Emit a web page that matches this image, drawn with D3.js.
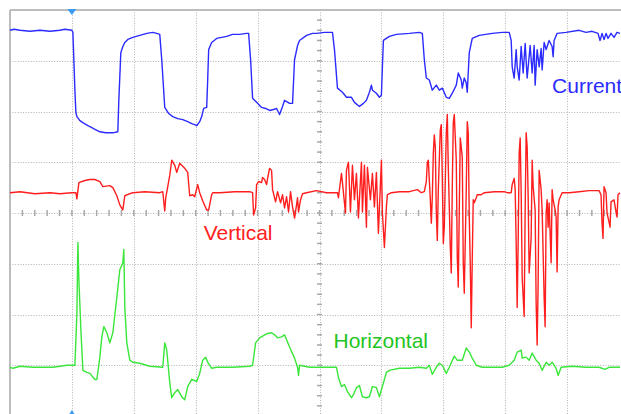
<!DOCTYPE html>
<html>
<head>
<meta charset="utf-8">
<script src="https://cdn.jsdelivr.net/npm/d3@7"></script>
<style>
    body { margin: 0; background: #fff; }
    svg { display: block; font-family: "Liberation Sans", Arial, sans-serif; }
</style>
</head>
<body>
<svg id="scope" width="621" height="414"></svg>
<script>
// time in samples (62 samples / division), voltage in mV (50 mV / division)
const channelNames = ["Current", "Vertical", "Horizontal"];

const currentTrace = [
    [0,180],[4,181],[10,180],[20,179],[30,180],[40,179],[50,180],[55,181],[62,180],[63,178],
    [65,121],[66,99],[67,95],[70,91],[73,89],[78,86],[82,84],[86,82],[90,80],[96,79],[103,79],[108,80],
    [109,111],[111,158],[113,164],[115,168],[118,171],[123,173],[130,175],[137,177],[143,178],[147,177],[150,176],
    [152,151],[155,104],[159,98],[163,95],[168,93],[173,92],[178,90],[182,88],[185,87],[187,86],
    [190,90],[192,95],[194,103],[197,104],[198,131],[199,161],[202,168],[207,172],[212,173],[217,174],
    [223,176],[230,176],[237,177],[239,177],[241,151],[243,113],[247,109],[252,104],[256,103],[260,101],
    [264,102],[267,103],[270,97],[273,105],[275,111],[280,108],[283,108],[285,151],[288,165],[290,170],
    [297,175],[303,177],[307,177],[315,178],[323,178],[325,161],[328,123],[333,119],[337,114],[342,114],
    [345,109],[350,105],[354,108],[357,111],[360,119],[362,126],[363,121],[367,118],[370,114],[372,116],
    [373,144],[374,170],[380,174],[387,176],[400,177],[410,178],[413,177],[415,151],[417,133],[420,131],
    [423,121],[427,126],[430,121],[433,123],[437,114],[440,113],[443,118],[447,126],[449,138],[452,131],
    [453,123],[455,133],[457,128],[458,119],[460,158],[463,172],[470,175],[483,177],[493,178],[500,178],
    [502,170],[503,144],[505,133],[507,161],[508,144],[510,131],[512,164],[514,138],[516,167],[518,133],
    [521,165],[523,138],[525,165],[526,126],[528,161],[530,144],[532,162],[533,141],[535,168],[537,161],
    [540,170],[543,164],[544,154],[545,170],[548,177],[557,178],[570,180],[577,178],[583,179],[589,177],
    [591,170],[593,177],[595,171],[597,177],[599,172],[602,177],[605,173],[608,178],[611,177]
];

const verticalTrace = [
    [0,20],[10,21],[25,19],[40,20],[50,19],[62,20],[66,20],[67,14],[69,30],[75,32],[80,33],[85,33],
    [90,31],[93,26],[100,27],[103,25],[107,17],[110,8],[113,3],[115,17],[120,19],[123,20],[135,21],
    [150,20],[153,21],[155,2],[156,15],[160,37],[162,52],[165,47],[167,40],[170,49],[175,44],[178,40],
    [180,17],[183,18],[185,16],[188,28],[190,20],[193,12],[197,3],[199,3],[202,18],[203,20],[210,20],
    [225,21],[240,21],[243,20],[244,-2],[246,5],[247,28],[249,31],[252,30],[253,35],[255,33],[257,28],
    [258,34],[260,44],[262,42],[263,23],[266,11],[268,21],[271,10],[273,18],[275,5],[277,16],[279,1],
    [281,21],[283,6],[285,-5],[287,8],[288,15],[289,1],[291,13],[293,19],[297,20],[307,22],[317,20],
    [328,20],[329,15],[332,39],[333,30],[336,0],[337,42],[339,50],[341,1],[343,47],[345,13],[347,39],
    [349,-5],[352,50],[353,1],[355,47],[357,-14],[358,45],[361,13],[363,39],[365,6],[367,40],[369,-20],
    [372,52],[373,0],[375,-34],[377,6],[378,18],[382,20],[390,21],[400,21],[408,23],[412,20],[415,21],
    [417,31],[418,50],[419,52],[421,13],[422,-10],[423,16],[424,59],[425,77],[426,65],[427,0],[428,-27],
    [429,23],[431,82],[432,87],[433,35],[434,-30],[435,-14],[437,79],[438,97],[439,45],[441,-33],
    [442,-59],[443,26],[444,89],[445,97],[447,52],[448,-43],[449,-73],[450,3],[451,74],[453,55],
    [454,-49],[455,-79],[457,23],[458,90],[459,79],[460,-4],[461,-49],[462,-113],[463,-46],[464,13],
    [465,10],[467,15],[468,18],[472,18],[475,20],[485,21],[495,21],[498,20],[502,20],[503,28],[505,34],
    [506,23],[507,-30],[508,-93],[509,-27],[510,59],[511,74],[512,20],[513,-63],[515,-102],[516,3],
    [517,79],[518,65],[519,16],[520,-59],[522,-24],[523,52],[524,26],[526,3],[527,-89],[528,-130],
    [529,-69],[530,42],[532,23],[533,3],[535,-83],[536,-112],[537,0],[538,13],[539,-14],[540,10],
    [542,-49],[543,23],[544,13],[546,3],[547,-4],[548,-58],[549,6],[550,13],[553,20],[560,20],[570,21],
    [580,22],[590,22],[592,18],[593,-10],[594,-25],[595,26],[597,20],[598,0],[600,-9],[601,-14],
    [602,11],[605,13],[607,1],[608,-4],[609,18],[611,20]
];

const horizontalTrace = [
    [0,-152],[3,-153],[10,-151],[23,-152],[33,-152],[43,-152],[57,-150],[65,-150],[67,-99],[68,-29],
    [69,-66],[71,-115],[73,-155],[77,-157],[80,-158],[85,-164],[87,-164],[90,-142],[92,-122],[94,-112],
    [97,-118],[100,-128],[103,-118],[107,-83],[110,-56],[113,-49],[114,-36],[115,-93],[117,-128],
    [120,-145],[123,-147],[130,-148],[140,-151],[153,-152],[155,-128],[157,-135],[160,-167],[162,-182],
    [165,-177],[168,-174],[172,-181],[175,-184],[178,-171],[182,-164],[187,-166],[190,-158],[193,-145],
    [196,-142],[198,-147],[202,-153],[207,-152],[223,-152],[240,-151],[243,-150],[246,-128],[250,-123],
    [257,-119],[262,-118],[265,-120],[268,-123],[272,-122],[275,-120],[280,-132],[285,-143],[288,-152],
    [289,-160],[290,-150],[300,-152],[310,-152],[322,-152],[327,-152],[329,-162],[332,-171],[335,-169],
    [338,-176],[342,-182],[344,-179],[347,-172],[350,-170],[353,-181],[357,-182],[360,-181],[363,-171],
    [367,-172],[370,-181],[373,-171],[377,-157],[380,-155],[390,-153],[400,-153],[410,-152],[417,-153],
    [420,-150],[423,-159],[427,-152],[430,-148],[433,-150],[437,-158],[440,-152],[445,-141],[448,-145],
    [453,-145],[457,-133],[460,-137],[463,-143],[467,-150],[473,-152],[483,-152],[493,-152],[500,-150],
    [505,-145],[508,-137],[512,-135],[513,-143],[517,-142],[520,-145],[523,-138],[527,-145],[530,-148],
    [533,-155],[537,-147],[540,-150],[543,-147],[547,-153],[549,-160],[552,-152],[563,-151],[577,-152],
    [590,-152],[596,-154],[600,-152],[611,-152]
];

const channelTraces = [currentTrace, verticalTrace, horizontalTrace];
const traceColors = ["#2b2bff", "#ff1e1e", "#3ae63a"];
const labelColors = ["#2b2bff", "#ff2020", "#22c422"];
// label anchor: [sample, mV]
const labelAnchors = [[543, 118], [194, -27], [324, -133]];
const triggerSample = 62;

document.addEventListener("DOMContentLoaded", function () {
    const svg = d3.select("#scope");

    const x = d3.scaleLinear().domain([0, 620]).range([10, 629]);
    const y = d3.scaleLinear().domain([-200, 200]).range([416, 10]);

    const samplesPerDiv = 62;
    const mvPerDiv = 50;

    // Dotted graticule
    const grid = svg.append("g")
        .attr("stroke", "#b4b4b4")
        .attr("stroke-width", 1)
        .attr("stroke-dasharray", "1,1.6");

    grid.selectAll(".vgrid")
        .data(d3.range(samplesPerDiv, 620, samplesPerDiv))
        .enter()
        .append("line")
        .attr("x1", d => Math.round(x(d)) + 0.5)
        .attr("x2", d => Math.round(x(d)) + 0.5)
        .attr("y1", y(200))
        .attr("y2", y(-200));

    grid.selectAll(".hgrid")
        .data(d3.range(-200 + mvPerDiv, 200, mvPerDiv))
        .enter()
        .append("line")
        .attr("y1", d => Math.round(y(d)) + 0.5)
        .attr("y2", d => Math.round(y(d)) + 0.5)
        .attr("x1", x(0))
        .attr("x2", x(620));

    // Centre cross minor ticks
    const ticks = svg.append("g").attr("stroke", "#a8a8a8").attr("stroke-width", 1.5);

    ticks.selectAll(".xtick")
        .data(d3.range(0, 621, samplesPerDiv / 5))
        .enter()
        .append("line")
        .attr("x1", d => x(d))
        .attr("x2", d => x(d))
        .attr("y1", y(0) - 3)
        .attr("y2", y(0) + 3);

    ticks.selectAll(".ytick")
        .data(d3.range(-200, 201, mvPerDiv / 5))
        .enter()
        .append("line")
        .attr("x1", x(310) - 2.5)
        .attr("x2", x(310) + 2.5)
        .attr("y1", d => y(d))
        .attr("y2", d => y(d));

    // Frame (top and left edges are visible)
    svg.append("line")
        .attr("x1", x(0)).attr("x2", x(620))
        .attr("y1", y(200)).attr("y2", y(200))
        .attr("stroke", "#bdbdbd").attr("stroke-width", 2);
    svg.append("line")
        .attr("x1", x(0)).attr("x2", x(0))
        .attr("y1", y(200)).attr("y2", y(-200))
        .attr("stroke", "#bdbdbd").attr("stroke-width", 2);

    // Traces
    const line = d3.line()
        .x(d => x(d[0]))
        .y(d => y(d[1]));

    svg.selectAll(".trace")
        .data(channelTraces)
        .enter()
        .append("path")
        .attr("d", line)
        .attr("fill", "none")
        .attr("stroke", (d, i) => traceColors[i])
        .attr("stroke-width", 1.4)
        .attr("stroke-linejoin", "round");

    // Channel names
    svg.selectAll(".label")
        .data(channelNames)
        .enter()
        .append("text")
        .attr("x", (d, i) => x(labelAnchors[i][0]))
        .attr("y", (d, i) => y(labelAnchors[i][1]))
        .attr("fill", (d, i) => labelColors[i])
        .style("font-size", "21px")
        .text(d => d);

    // Trigger markers
    const tx = x(triggerSample);
    svg.append("path")
        .attr("d", `M${tx - 4.5},${y(200) - 1} L${tx + 4.5},${y(200) - 1} L${tx},${y(200) + 5} Z`)
        .attr("fill", "#3a9cf5");
    svg.append("path")
        .attr("d", `M${tx - 4.5},${y(-200) + 1} L${tx + 4.5},${y(-200) + 1} L${tx},${y(-200) - 6} Z`)
        .attr("fill", "#3a9cf5");
});
</script>
</body>
</html>
